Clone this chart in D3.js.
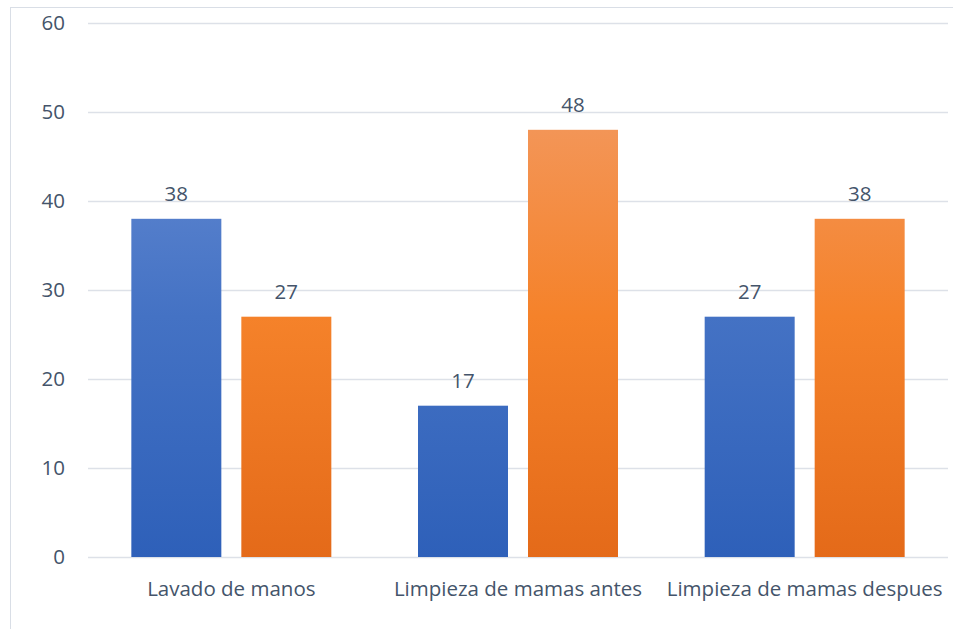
<!DOCTYPE html>
<html>
<head>
<meta charset="utf-8">
<script src="https://cdn.jsdelivr.net/npm/d3@7"></script>
<style>
  html, body { margin: 0; padding: 0; background: #fff; }
  svg { display: block; }
  text { font-family: "Open Sans", Lato, sans-serif; fill: #44546A; }
</style>
</head>
<body>
<svg id="chart" width="953" height="629"></svg>
<script>
const categories = ["Lavado de manos", "Limpieza de mamas antes", "Limpieza de mamas despues"];
const seriesA = [38, 17, 27];
const seriesB = [27, 48, 38];
const yTicks = [0, 10, 20, 30, 40, 50, 60];

const svg = d3.select("#chart");
const W = 953, H = 629;
const m = { left: 88, right: 5, top: 23, bottom: 72 };
const fs = 20.5;

// chart frame (runs past the right and bottom edges of the canvas)
svg.append("rect")
  .attr("x", 10.5).attr("y", 7.5)
  .attr("width", W).attr("height", H)
  .attr("fill", "#fff").attr("stroke", "#D9DEE6").attr("stroke-width", 1);

const x0 = d3.scaleBand().domain(categories).range([m.left, W - m.right]).paddingInner(0).paddingOuter(0);
const keys = ["a", "b"];
const x1 = d3.scaleBand().domain(keys).range([0, x0.bandwidth()]).paddingInner(0.1818).paddingOuter(0.394);
const y = d3.scaleLinear().domain([0, 60]).range([H - m.bottom, m.top]);

// gridlines
svg.append("g").selectAll("line").data(yTicks).join("line")
  .attr("x1", m.left).attr("x2", W - m.right)
  .attr("y1", d => Math.round(y(d)) + 0.5).attr("y2", d => Math.round(y(d)) + 0.5)
  .attr("stroke", "#DDE1E8").attr("stroke-width", 1.5);

// y tick labels
svg.append("g").selectAll("text").data(yTicks).join("text")
  .attr("x", 65).attr("y", d => y(d)).attr("dy", "0.36em")
  .attr("text-anchor", "end").attr("font-size", fs)
  .text(d => d);

const defs = svg.append("defs");
function grad(id, top, mid, bot) {
  const g = defs.append("linearGradient").attr("id", id)
    .attr("gradientUnits", "userSpaceOnUse")
    .attr("x1", 0).attr("x2", 0).attr("y1", y(60)).attr("y2", y(0));
  g.append("stop").attr("offset", "0%").attr("stop-color", top);
  g.append("stop").attr("offset", "55%").attr("stop-color", mid);
  g.append("stop").attr("offset", "100%").attr("stop-color", bot);
}
grad("gA", "#7194D8", "#4472C4", "#2E60B9");
grad("gB", "#F2A070", "#F5822A", "#E46A19");

const rows = categories.map((c, i) => ({ c, a: seriesA[i], b: seriesB[i] }));

const groups = svg.append("g").selectAll("g").data(rows).join("g")
  .attr("transform", d => `translate(${x0(d.c)},0)`);

groups.selectAll("rect").data(d => keys.map(k => ({ k, v: d[k] }))).join("rect")
  .attr("x", d => x1(d.k)).attr("width", x1.bandwidth())
  .attr("y", d => y(d.v)).attr("height", d => y(0) - y(d.v))
  .attr("fill", d => d.k === "a" ? "url(#gA)" : "url(#gB)");

groups.selectAll("text.val").data(d => keys.map(k => ({ k, v: d[k] }))).join("text")
  .attr("class", "val")
  .attr("x", d => x1(d.k) + x1.bandwidth() / 2).attr("y", d => y(d.v) - 18)
  .attr("text-anchor", "middle").attr("font-size", fs)
  .text(d => d.v);

// category labels
svg.append("g").selectAll("text").data(categories).join("text")
  .attr("x", d => x0(d) + x0.bandwidth() / 2).attr("y", 596)
  .attr("text-anchor", "middle").attr("font-size", fs)
  .text(d => d);
</script>
</body>
</html>
